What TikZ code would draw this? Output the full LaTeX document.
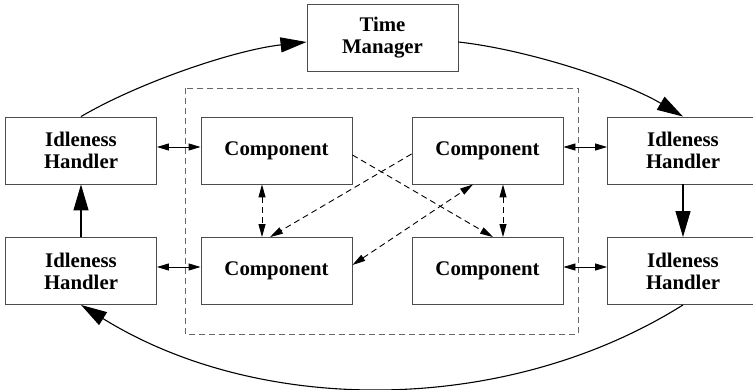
\documentclass[tikz,border=0pt]{standalone}
\usepackage{fontspec}
\setmainfont{Liberation Serif}
\usetikzlibrary{arrows.meta}
\begin{document}
\begin{tikzpicture}[x=1pt,y=-1pt,
  box/.style={draw=black!70,line width=0.9pt,rectangle,inner sep=0pt,
    minimum width=151pt,minimum height=67pt,align=center,
    font=\fontsize{20.8}{22}\selectfont\bfseries},
  bigarrow/.style={line width=1.1pt,-{Triangle[length=26pt,width=15pt]}},
  smallboth/.style={line width=0.9pt,{Triangle[length=12pt,width=7pt]}-{Triangle[length=12pt,width=7pt]}},
  dashline/.style={line width=0.9pt,dash pattern=on 6pt off 4pt},
  dashtip/.style={dashline,-{Triangle[length=13pt,width=7pt]}},
  dashboth/.style={dashline,{Triangle[length=13pt,width=7pt]}-{Triangle[length=13pt,width=7pt]}}
]
\useasboundingbox (0,0) rectangle (753,390);
% enclosure
\draw[draw=black!60,line width=0.9pt,dash pattern=on 6pt off 4pt] (185,88) rectangle (578,334);
% nodes
\node[box] (TM) at (382.5,38) {Time\\Manager};
\node[box] (LIH1) at (81,150.5) {Idleness\\Handler};
\node[box] (LIH2) at (81,271) {Idleness\\Handler};
\node[box] (CTL) at (276.5,150.5) {Component};
\node[box] (CBL) at (276.5,271) {Component};
\node[box] (CTR) at (487.5,150.5) {Component};
\node[box] (CBR) at (487.5,271) {Component};
\node[box] (RIH1) at (683,150.5) {Idleness\\Handler};
\node[box] (RIH2) at (683,271) {Idleness\\Handler};
% big arcs
\draw[bigarrow] (LIH1.north) .. controls (140,82) and (235,50) .. ([yshift=-4pt]TM.west);
\draw[bigarrow] ([yshift=-4pt]TM.east) .. controls (530,50) and (625,82) .. (RIH1.north);
\draw[bigarrow] (RIH2.south) .. controls (506,416) and (260,416) .. (LIH2.south);
\draw[bigarrow] (LIH2.north) -- (LIH1.south);
\draw[bigarrow] (RIH1.south) -- (RIH2.north);
% horizontal links
\draw[smallboth] ([yshift=3.5pt]LIH1.east) -- ([yshift=3.5pt]CTL.west);
\draw[smallboth] ([yshift=4pt]LIH2.east) -- ([yshift=4pt]CBL.west);
\draw[smallboth] ([yshift=3.5pt]CTR.east) -- ([yshift=3.5pt]RIH1.west);
\draw[smallboth] ([yshift=4pt]CBR.east) -- ([yshift=4pt]RIH2.west);
% dashed links
\draw[dashboth] ([xshift=-14.5pt]CTL.south) -- ([xshift=-14.5pt]CBL.north);
\draw[dashboth] ([xshift=15.5pt]CTR.south) -- ([xshift=15.5pt]CBR.north);
\draw[dashtip] ([yshift=-4.5pt]CTL.east) -- ([xshift=5.5pt]CBR.north);
\draw[dashtip] ([yshift=-3.5pt]CTR.west) -- ([xshift=-6.5pt]CBL.north);
\draw[dashboth] ([yshift=6pt]CBL.east) -- ([xshift=-14.5pt]CTR.south);
\end{tikzpicture}
\end{document}
